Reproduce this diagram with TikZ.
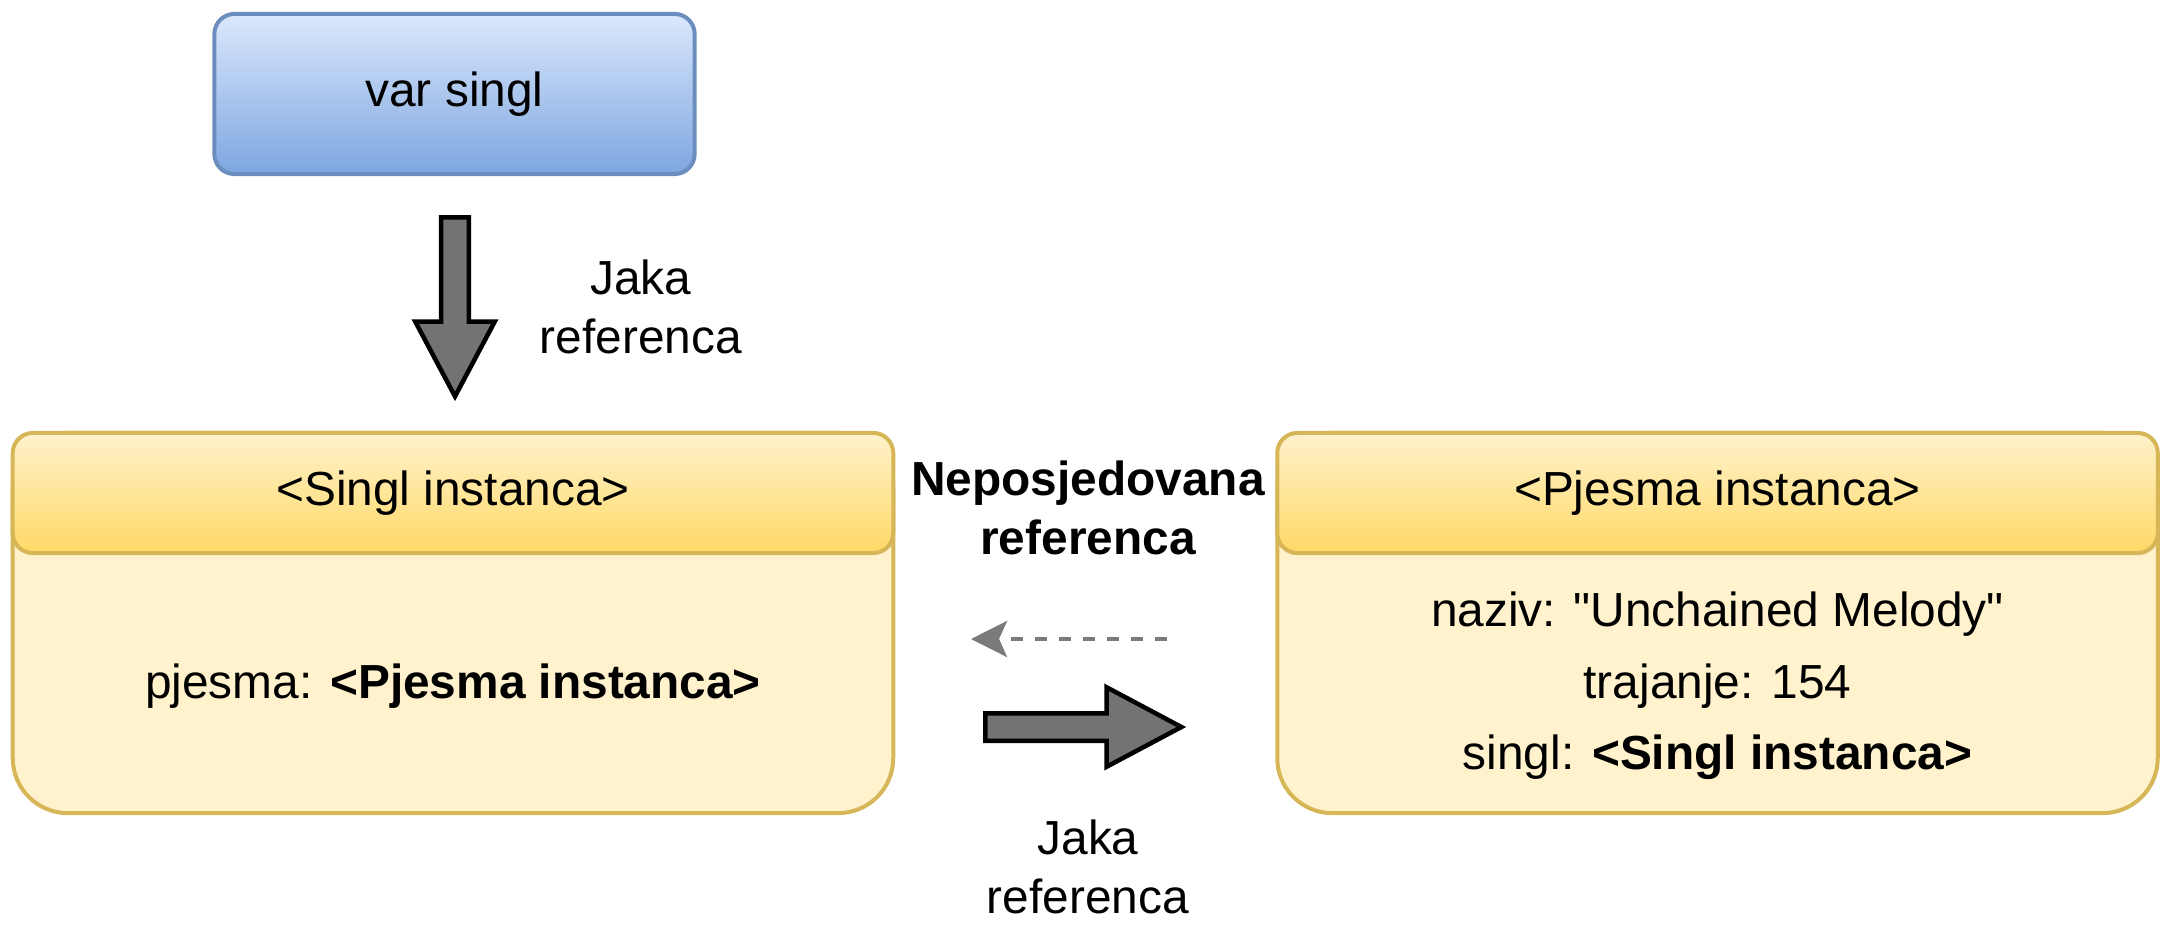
\documentclass[tikz,border=0pt]{standalone}
\usepackage{fontspec}
\setmainfont{Liberation Sans}
\usepackage{tikz}
\usetikzlibrary{arrows.meta,shapes,shapes.arrows}
\usetikzlibrary{positioning}
\definecolor{vartop}{HTML}{DAE8FC}
\definecolor{varbot}{HTML}{7EA6E0}
\definecolor{varline}{HTML}{6C8EBF}
\definecolor{objtop}{HTML}{FFF2CC}
\definecolor{objbot}{HTML}{FFD966}
\definecolor{objfill}{HTML}{FFF2CC}
\definecolor{objline}{HTML}{D6B656}
\definecolor{arrgray}{HTML}{737373}
\definecolor{dashgray}{HTML}{7A7A7A}
\tikzstyle{varbox}=[draw=varline, line width=0.04cm, rounded corners=0.2cm,
                top color=vartop, bottom color=varbot, minimum width=4.8cm, minimum height=1.6cm]
\tikzstyle{objbody}=[draw=objline, line width=0.04cm, fill=objfill,
                rounded corners=0.55cm, minimum width=8.8cm, minimum height=3.8cm]
\tikzstyle{objhead}=[draw=objline, line width=0.04cm, rounded corners=0.2cm,
                top color=objtop, bottom color=objbot, minimum width=8.8cm, minimum height=1.2cm]
\tikzstyle{strongref}=[single arrow, draw=black, line width=0.045cm, fill=arrgray,
                inner xsep=0, inner ysep=0.115cm, single arrow head extend=0.26cm,
                single arrow tip angle=56, anchor=tail]
\tikzstyle{weakref}=[draw=dashgray, line width=0.04cm, dash pattern=on 0.12cm off 0.12cm,
                -{Stealth[length=0.36cm, width=0.36cm, inset=0.08cm]}]
\tikzstyle{rlabel}=[align=center, font=\fontsize{13.6}{16.8}\selectfont]

\begin{document}
\begin{tikzpicture}[x=0.01cm, y=-0.01cm, font=\fontsize{13.6}{16.8}\selectfont]
    \useasboundingbox (0,0) rectangle (2172,948);
    % variable
    \node[varbox] (singlVar) at (454.5,94) {var singl};
    \node[strongref, rotate=-90, minimum height=1.79cm] (strongA) at (455,215) {};
    \node[rlabel] (lblA) at (641,307) {Jaka\\referenca};
    % instances
    \node[objbody] (singlBody) at (453,623) {};
    \node[objhead] (singlHead) at (453,493) {<Singl instanca>};
    \node (singlFields) at (453,686) {pjesma: \textbf{<Pjesma instanca>}};
    \node[objbody] (pjesmaBody) at (1717.5,623) {};
    \node[objhead] (pjesmaHead) at (1717.5,493) {<Pjesma instanca>};
    \node[align=center, font=\fontsize{13.6}{20.3}\selectfont] (pjesmaFields) at (1717.5,686)
      {naziv: \textquotedbl Unchained Melody\textquotedbl\\trajanje: 154\\singl: \textbf{<Singl instanca>}};
    % references between them
    \node[rlabel, font=\fontsize{13.6}{16.8}\selectfont\bfseries] (lblWeak) at (1088,508) {Neposjedovana\\referenca};
    \coordinate (weakStart) at (1167,639);
    \coordinate (weakEnd) at (971,639);
    \draw[weakref] (weakStart) -- (weakEnd);
    \node[strongref, minimum height=1.96cm] (strongB) at (983,727) {};
    \node[rlabel] (lblB) at (1088,867) {Jaka\\referenca};
\end{tikzpicture}
\end{document}
